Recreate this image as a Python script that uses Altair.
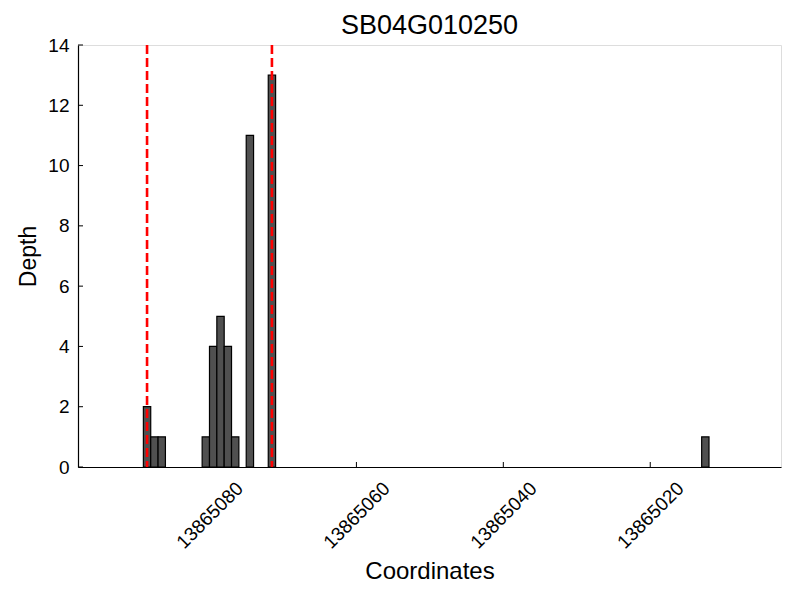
import altair as alt
import pandas as pd

# Data
starts = [13865088, 13865087, 13865086, 13865080, 13865079, 13865078,
          13865077, 13865076, 13865074, 13865071, 13865012]
depths = [2, 1, 1, 1, 4, 5, 4, 1, 11, 13, 1]
marker_positions = [13865088.5, 13865071.5]
x_tick_values = [13865080, 13865060, 13865040, 13865020]
y_tick_values = [0, 2, 4, 6, 8, 10, 12, 14]
x_domain = [13865002.2, 13865097.9]
y_domain = [0, 14]

FONT = "Liberation Sans"
W, H = 703, 422

bars_df = pd.DataFrame({"start": starts, "depth": depths})
bars_df["end"] = bars_df["start"] + 1
marks_df = pd.DataFrame({"pos": marker_positions})
xt_df = pd.DataFrame({"v": x_tick_values})
yt_df = pd.DataFrame({"v": y_tick_values})

xscale = alt.Scale(domain=x_domain, reverse=True, nice=False, zero=False)
yscale = alt.Scale(domain=y_domain, nice=False)

x_axis = alt.Axis(
    values=x_tick_values, format="d", labelAngle=315, labelAlign="center",
    labelBaseline="middle", labelPadding=48, ticks=False, tickSize=0,
    grid=False, labelFontSize=19, labelFont=FONT, labelColor="black",
    domainColor="black", domainWidth=1.2,
    title="Coordinates", titleFont=FONT, titleFontSize=24,
    titleFontWeight="normal", titleColor="black", titleBaseline="alphabetic",
    titleAlign="center", titleX=W / 2, titleY=111, labelFlush=False,
    labelOverlap=False,
)
y_axis = alt.Axis(
    values=y_tick_values, ticks=False, tickSize=0, grid=False,
    labelFontSize=19, labelFont=FONT, labelColor="black", labelPadding=9,
    domainColor="black", domainWidth=1.2,
    title="Depth", titleFont=FONT, titleFontSize=23, titleFontWeight="normal",
    titleColor="black", titleAngle=270, titleBaseline="alphabetic",
    titleAlign="center", titleX=-43, titleY=H / 2, labelFlush=False,
    labelOverlap=False,
)

bars = alt.Chart(bars_df).mark_bar(
    color="#505050", stroke="black", strokeWidth=1.2, opacity=1
).encode(
    x=alt.X("start:Q", scale=xscale, axis=x_axis),
    x2="end:Q",
    y=alt.Y("depth:Q", scale=yscale, axis=y_axis),
    y2=alt.datum(0),
)

vlines = alt.Chart(marks_df).mark_rule(
    color="red", strokeWidth=2.6, strokeDash=[9, 4]
).encode(
    x=alt.X("pos:Q", scale=xscale),
    y=alt.value(0),
    y2=alt.value(H),
)

xticks = alt.Chart(xt_df).mark_rule(color="black", strokeWidth=1).encode(
    x=alt.X("v:Q", scale=xscale),
    y=alt.value(H),
    y2=alt.value(H - 5),
)

yticks = alt.Chart(yt_df).mark_rule(color="black", strokeWidth=1).encode(
    y=alt.Y("v:Q", scale=yscale),
    x=alt.value(0),
    x2=alt.value(5),
)

chart = alt.layer(bars, xticks, yticks, vlines).properties(
    width=W, height=H,
    title=alt.TitleParams("SB04G010250", font=FONT, fontSize=27,
                          fontWeight="normal", color="black", anchor="middle",
                          baseline="alphabetic", offset=-25),
    autosize=alt.AutoSizeParams(type="none"),
    padding={"left": 70, "top": 37, "right": 11, "bottom": 125},
).configure_view(stroke=None).configure(background="white")

chart.save("out.html", embed_options={"renderer": "svg", "actions": False})
